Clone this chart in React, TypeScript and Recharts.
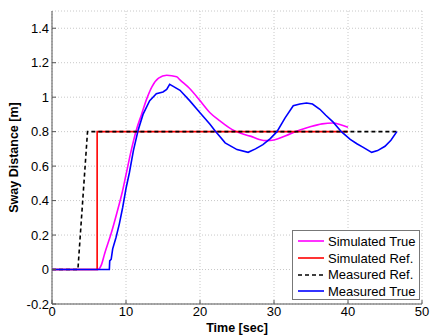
import React from "react"
import { LineChart, Line, XAxis, YAxis, CartesianGrid } from "recharts"

const xTicks = [0, 10, 20, 30, 40, 50]
const yTicks = [-0.2, 0, 0.2, 0.4, 0.6, 0.8, 1, 1.2, 1.4]

// Simulated True
const simTrueX = [0, 6.2, 6.7, 7.1, 8.0, 8.9, 9.5, 10.0, 10.7, 11.4, 12.1, 12.8, 13.5, 14.4, 15.5, 16.85, 17.3, 18.6, 20.0, 21.35, 22.7, 24.3, 25.5, 26.8, 28.0, 29.0, 30.0, 31.5, 33.5, 35.0, 36.5, 38.0, 39.0, 40.0]
const simTrueY = [0, 0, 0.03, 0.09, 0.21, 0.35, 0.45, 0.55, 0.69, 0.81, 0.9, 0.99, 1.06, 1.11, 1.127, 1.118, 1.1, 1.05, 0.98, 0.91, 0.862, 0.813, 0.79, 0.774, 0.755, 0.748, 0.752, 0.775, 0.81, 0.83, 0.845, 0.85, 0.84, 0.825]

// Simulated Ref.
const simRefX = [0, 6.1, 6.1, 40]
const simRefY = [0, 0, 0.8, 0.8]

// Measured Ref.
const measRefX = [0, 3.5, 4.8, 46.6]
const measRefY = [0, 0, 0.8, 0.8]

// Measured True
const measTrueX = [0, 7.75, 7.8, 8.0, 8.2, 8.65, 9.1, 9.55, 10.0, 10.45, 11.0, 11.65, 12.3, 13.2, 14.1, 15.0, 15.5, 15.9, 16.5, 17.3, 18.6, 20.0, 21.35, 22.0, 23.4, 25.0, 26.5, 27.5, 28.5, 29.5, 30.4, 31.5, 32.6, 33.5, 34.4, 35.2, 36.2, 37.0, 38.0, 39.1, 40.3, 41.2, 42.0, 43.2, 44.0, 45.0, 45.8, 46.6]
const measTrueY = [0, 0, 0.05, 0.06, 0.12, 0.186, 0.265, 0.36, 0.47, 0.56, 0.69, 0.81, 0.9, 0.98, 1.02, 1.03, 1.045, 1.074, 1.06, 1.04, 0.98, 0.91, 0.843, 0.807, 0.735, 0.696, 0.68, 0.7, 0.725, 0.76, 0.8, 0.88, 0.95, 0.96, 0.966, 0.96, 0.93, 0.895, 0.855, 0.8, 0.755, 0.73, 0.71, 0.68, 0.69, 0.715, 0.75, 0.8]

const toPoints = (xs: number[], ys: number[]) => xs.map((x, i) => ({ x, y: ys[i] }))

const series = [
  { name: "Simulated True", data: toPoints(simTrueX, simTrueY), color: "#ff00ff", dash: undefined, curve: "monotone" },
  { name: "Simulated Ref.", data: toPoints(simRefX, simRefY), color: "#ff0000", dash: undefined, curve: "linear" },
  { name: "Measured Ref.", data: toPoints(measRefX, measRefY), color: "#000000", dash: "4 3", curve: "linear" },
  { name: "Measured True", data: toPoints(measTrueX, measTrueY), color: "#0000ff", dash: undefined, curve: "linear" },
]

const FONT = "'Liberation Sans', Arial, sans-serif"
const AXIS = "#555555"

const fmtY = (v: number) => String(Math.round(v * 10) / 10)

export default function App() {
  return (
    <div style={{ position: "absolute", left: 0, top: 0, width: 433, height: 336, background: "#fff", fontFamily: FONT }}>
      <LineChart width={433} height={336} margin={{ top: 11, right: 11, left: 0, bottom: 0 }}>
        <CartesianGrid stroke="#c8c8c8" strokeDasharray="1 2" />
        <XAxis
          type="number"
          dataKey="x"
          domain={[0, 50]}
          ticks={xTicks}
          allowDataOverflow
          height={32}
          stroke={AXIS}
          tickSize={-4}
          tickMargin={7}
          tick={{ fontSize: 13, fill: "#000", fontFamily: FONT }}
          label={{
            content: ({ viewBox }: any) => (
              <text x={viewBox.x + viewBox.width / 2} y={332} textAnchor="middle" fontSize={12.5} fontWeight="bold" fontFamily={FONT} fill="#000">
                Time [sec]
              </text>
            ),
          }}
        />
        <XAxis xAxisId="top" orientation="top" type="number" domain={[0, 50]} ticks={xTicks} height={0} mirror stroke={AXIS} tickSize={4} tickFormatter={() => ""} />
        <YAxis
          type="number"
          domain={[-0.2, 1.5]}
          ticks={yTicks}
          allowDataOverflow
          width={52}
          stroke={AXIS}
          tickSize={-4}
          tickMargin={7}
          tickFormatter={fmtY}
          tick={{ fontSize: 13, fill: "#000", fontFamily: FONT }}
          label={{
            content: ({ viewBox }: any) => {
              const cy = viewBox.y + viewBox.height / 2
              return (
                <text x={14} y={cy} transform={`rotate(-90 14 ${cy})`} textAnchor="middle" dominantBaseline="central" fontSize={12.5} fontWeight="bold" fontFamily={FONT} fill="#000">
                  Sway Distance [m]
                </text>
              )
            },
          }}
        />
        <YAxis yAxisId="right" orientation="right" type="number" domain={[-0.2, 1.5]} ticks={yTicks} width={0} mirror stroke={AXIS} tickSize={4} tickFormatter={() => ""} />
        {series.map((s) => (
          <Line
            key={s.name}
            data={s.data}
            dataKey="y"
            type={s.curve as any}
            stroke={s.color}
            strokeWidth={1.6}
            strokeDasharray={s.dash}
            dot={false}
            isAnimationActive={false}
          />
        ))}
      </LineChart>
      <div
        style={{
          position: "absolute",
          left: 292,
          top: 230,
          width: 128,
          height: 70,
          boxSizing: "border-box",
          border: "1px solid #777",
          background: "#fff",
          padding: "2px 0 0 4px",
        }}
      >
        {series.map((s) => (
          <div key={s.name} style={{ display: "flex", alignItems: "center", height: 16.7, fontSize: 13, color: "#000", whiteSpace: "nowrap" }}>
            <svg width={28} height={8} style={{ marginRight: 3 }}>
              <line x1={1} y1={4} x2={27} y2={4} stroke={s.color} strokeWidth={1.6} strokeDasharray={s.dash} />
            </svg>
            {s.name}
          </div>
        ))}
      </div>
    </div>
  )
}
